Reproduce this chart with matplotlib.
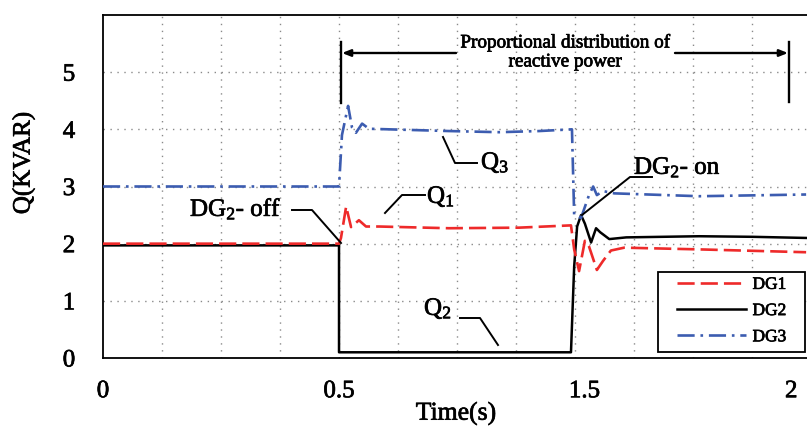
import numpy as np
import matplotlib
matplotlib.use("Agg")
import matplotlib.pyplot as plt
from matplotlib.lines import Line2D
from matplotlib import patheffects as pe

plt.rcParams['font.family'] = ['Liberation Serif', 'DejaVu Serif']
plt.rcParams['mathtext.fontset'] = 'custom'
plt.rcParams['mathtext.rm'] = 'Liberation Serif'
plt.rcParams['mathtext.it'] = 'Liberation Serif:italic'

# ---------------- data (time in s, Q in kVAR) ----------------
t_dg1 = [0.0, 0.5, 0.508, 0.529, 0.549, 0.581, 0.610, 0.663, 0.948, 1.233, 1.445,
         1.458, 1.478, 1.501, 1.511, 1.530, 1.545, 1.564, 1.596, 1.777, 2.036]
q_dg1 = [2.0, 2.0, 2.10, 2.65, 2.29, 2.41, 2.30, 2.30, 2.27, 2.28, 2.32,
         1.90, 1.52, 2.05, 1.95, 1.54, 1.70, 1.88, 1.93, 1.90, 1.85]

t_dg2 = [0.0, 0.5, 0.5, 1.445, 1.458, 1.470, 1.486, 1.501, 1.516, 1.528, 1.538,
         1.560, 1.601, 1.777, 1.906, 2.036]
q_dg2 = [1.97, 1.97, 0.1, 0.1, 1.60, 2.30, 2.50, 2.35, 2.02, 2.27, 2.20,
         2.08, 2.11, 2.13, 2.12, 2.10]

t_dg3 = [0.0, 0.5, 0.512, 0.537, 0.553, 0.569, 0.594, 0.622, 0.704, 0.948, 1.152,
         1.315, 1.449, 1.458, 1.486, 1.511, 1.521, 1.530, 1.545, 1.572, 1.777, 2.036]
q_dg3 = [3.0, 3.0, 3.9, 4.41, 4.03, 3.94, 4.10, 4.01, 4.00, 3.97, 3.95,
         3.97, 4.00, 2.50, 2.45, 2.85, 3.00, 2.85, 2.92, 2.88, 2.83, 2.86]

series_labels = ['DG1', 'DG2', 'DG3']
x_ticks = [0, 0.5, 1.5, 2]
x_tick_labels = ['0', '0.5', '1.5', '2']
y_ticks = [0, 1, 2, 3, 4, 5]
y_tick_labels = ['0', '1', '2', '3', '4', '5']

# ---------------- piecewise time axis (as drawn in the figure) ----------------
knots_t = np.array([-10.0, 0.0, 0.5, 1.5, 12.0])
knots_u = np.array([-10.0, 0.0, 0.5, 1.02, 1.02 + 10.5 * 0.876])
fwd = lambda t: np.interp(t, knots_t, knots_u)
inv = lambda u: np.interp(u, knots_u, knots_t)

W, H = 807, 426
fig = plt.figure(figsize=(W / 100, H / 100), dpi=100)
L, R, T, B = 103, 812, 15, 358
ax = fig.add_axes([L / W, 1 - B / H, (R - L) / W, (B - T) / H])
ax.set_xscale('function', functions=(fwd, inv))
ax.set_xlim(0, float(inv(1.502)))
ax.set_ylim(0, 6)

heavy = [pe.withStroke(linewidth=0.5, foreground='black')]

# grid
grid_kw = dict(color='#8a8a8a', lw=1.0, linestyle=(0, (1, 4)), zorder=0)
for k in range(1, 12):
    ax.axvline(float(inv(0.125 * k)), **grid_kw)
for yv in range(1, 6):
    ax.axhline(yv, **grid_kw)

red = '#ee2a2a'
blue = '#3c5cb0'
st1 = dict(color=red, lw=1.9, linestyle=(0, (6.5, 2.3)))
st2 = dict(color='black', lw=1.8)
st3 = dict(color=blue, lw=1.9, linestyle=(0, (6.5, 2.2, 1.0, 2.2)))
ax.plot(t_dg2, q_dg2, zorder=3, **st2)
ax.plot(t_dg3, q_dg3, zorder=4, **st3)
ax.plot(t_dg1, q_dg1, zorder=5, **st1)

ax.set_xticks(x_ticks)
ax.set_xticklabels(x_tick_labels)
ax.set_yticks(y_ticks)
ax.set_yticklabels(y_tick_labels)
ax.xaxis.set_minor_locator(matplotlib.ticker.NullLocator())
ax.tick_params(axis='x', length=0, pad=16, labelsize=18)
ax.tick_params(axis='y', length=0, pad=20, labelsize=18)
for lab in ax.get_xticklabels() + ax.get_yticklabels():
    lab.set_path_effects(heavy)

for s in ['left', 'bottom', 'top']:
    ax.spines[s].set_linewidth(1.3)
    ax.spines[s].set_color('black')
ax.spines['right'].set_visible(False)

ax.set_xlabel('Time(s)', fontsize=18.5, path_effects=heavy)
ax.xaxis.set_label_coords((456 - L) / (R - L), (B - 402) / (B - T))
ax.set_ylabel('Q(KVAR)', fontsize=18, path_effects=heavy)
ax.yaxis.set_label_coords((35 - L) / (R - L), (B - 163) / (B - T))

# ---------------- annotations (figure pixel positions) ----------------
def fp(x, y):
    return (x / W, 1 - y / H)

def poly(pts, lw=1.4):
    xs = [p[0] / W for p in pts]
    ys = [1 - p[1] / H for p in pts]
    fig.add_artist(Line2D(xs, ys, color='black', lw=lw, transform=fig.transFigure))

# legend (frame drawn separately)
handles = [Line2D([], [], **st1), Line2D([], [], **st2), Line2D([], [], **st3)]
leg = fig.legend(handles, series_labels, loc='center left', bbox_to_anchor=fp(677, 311),
                 bbox_transform=fig.transFigure, borderaxespad=0, borderpad=0,
                 fontsize=12.5, handlelength=4.0, handletextpad=0.35,
                 labelspacing=0.58, frameon=False)
for tx in leg.get_texts():
    tx.set_path_effects(heavy)
fig.add_artist(matplotlib.patches.Rectangle(fp(658, 352), 147 / W, 80 / H,
               transform=fig.transFigure, fill=True, facecolor='white',
               edgecolor='black', lw=1.3, zorder=1.5))
leg.set_zorder(2)

txt_kw = dict(fontsize=18, color='black', transform=fig.transFigure, path_effects=heavy)

fig.text(*fp(190, 216), r'DG$_2$- off', ha='left', va='baseline', **txt_kw)
poly([(292, 210), (312, 210), (341, 243)])

fig.text(*fp(427, 203), r'Q$_1$', ha='left', va='baseline', **txt_kw)
poly([(385, 213), (402, 195), (425, 195)])

fig.text(*fp(481, 169), r'Q$_3$', ha='left', va='baseline', **txt_kw)
poly([(443, 137), (455, 163), (477, 163)])

fig.text(*fp(634, 174), r'DG$_2$- on', ha='left', va='baseline', **txt_kw)
poly([(652, 177), (630, 177), (582, 215)])

fig.text(*fp(424, 315), r'Q$_2$', ha='left', va='baseline', **txt_kw)
poly([(460, 318), (480, 318), (498, 345)])

# proportional distribution bracket
poly([(341, 42), (341, 103)], lw=1.7)
poly([(789, 42), (789, 102)], lw=1.7)
fig.add_artist(matplotlib.patches.FancyArrowPatch(fp(456, 53), fp(342, 53),
               transform=fig.transFigure, arrowstyle='-|>,head_length=5,head_width=2',
               color='black', lw=1.7, shrinkA=0, shrinkB=0))
fig.add_artist(matplotlib.patches.FancyArrowPatch(fp(675, 53), fp(788, 53),
               transform=fig.transFigure, arrowstyle='-|>,head_length=5,head_width=2',
               color='black', lw=1.7, shrinkA=0, shrinkB=0))
fig.text(*fp(565, 52), 'Proportional distribution of\nreactive power', ha='center',
         va='center', linespacing=1.15, fontsize=13.8, transform=fig.transFigure,
         path_effects=heavy)

fig.savefig('out.png', dpi=100)
